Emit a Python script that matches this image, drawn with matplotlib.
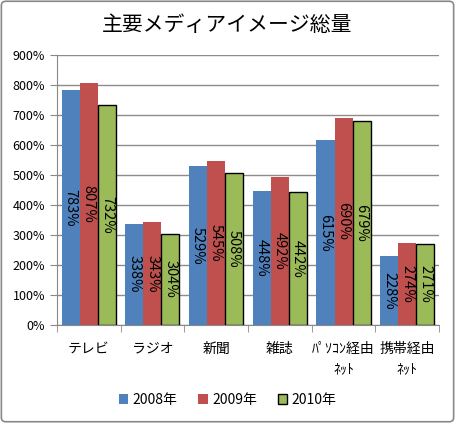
import numpy as np
import matplotlib
matplotlib.use('Agg')
import matplotlib.pyplot as plt
from matplotlib.patches import FancyBboxPatch
from matplotlib.ticker import FuncFormatter

plt.rcParams['font.family'] = ['Noto Sans CJK JP', 'DejaVu Sans']

categories = ['テレビ', 'ラジオ', '新聞', '雑誌', 'ﾊﾟｿｺﾝ経由\nﾈｯﾄ', '携帯経由\nﾈｯﾄ']
years = ['2008年', '2009年', '2010年']
v2008 = [783, 338, 529, 448, 615, 228]
v2009 = [807, 343, 545, 492, 690, 274]
v2010 = [732, 304, 508, 442, 679, 271]

colors = ['#4F81BD', '#C0504D', '#9BBB59']
edges = ['none', 'none', 'black']

fig = plt.figure(figsize=(4.55, 4.23), dpi=100)
ax = fig.add_axes([0.125, 0.232, 0.84, 0.638])

# outer frame
fig.patches.append(FancyBboxPatch((0.003, 0.003), 0.994, 0.994,
                                  boxstyle='round,pad=0,rounding_size=0.01',
                                  transform=fig.transFigure, fill=False,
                                  edgecolor='#888888', linewidth=1.2))

x = np.arange(len(categories))
w = 0.283
for i, (vals, c, e) in enumerate(zip([v2008, v2009, v2010], colors, edges)):
    pos = x + (i - 1) * w
    ax.bar(pos, vals, width=w, color=c, edgecolor=e, linewidth=1.0,
           label=years[i], zorder=3)
    for p, v in zip(pos, vals):
        ax.text(p, v / 2, f'{v}%', rotation=270, ha='center', va='center',
                fontsize=10.5, color='black', zorder=4)

ax.set_ylim(0, 900)
ax.set_yticks(np.arange(0, 901, 100))
ax.yaxis.set_major_formatter(FuncFormatter(lambda v, p: f'{int(v)}%'))
ax.set_xlim(-0.5, len(categories) - 0.5)
ax.set_xticks(x)
ax.set_xticklabels(categories, fontsize=10, linespacing=1.6, va='top')
ax.set_xticks(np.arange(-0.5, len(categories)), minor=True)
ax.tick_params(axis='x', which='major', length=0, pad=12)
ax.tick_params(axis='x', which='minor', length=5, color='#888888')
ax.tick_params(axis='y', length=5, color='#888888', labelsize=9)
ax.grid(axis='y', color='#8c8c8c', linewidth=1, zorder=0)
for s in ['top', 'right']:
    ax.spines[s].set_visible(False)
ax.spines['left'].set_color('#888888')
ax.spines['bottom'].set_color('#888888')

fig.text(0.5, 0.94, '主要メディアイメージ総量', ha='center', va='center', fontsize=15)

fig.legend(loc='center', bbox_to_anchor=(0.5, 0.055), ncol=3, frameon=False,
           fontsize=10, handlelength=0.7, handleheight=0.7, handletextpad=0.3,
           columnspacing=1.5)

fig.savefig('out.png', dpi=100)
